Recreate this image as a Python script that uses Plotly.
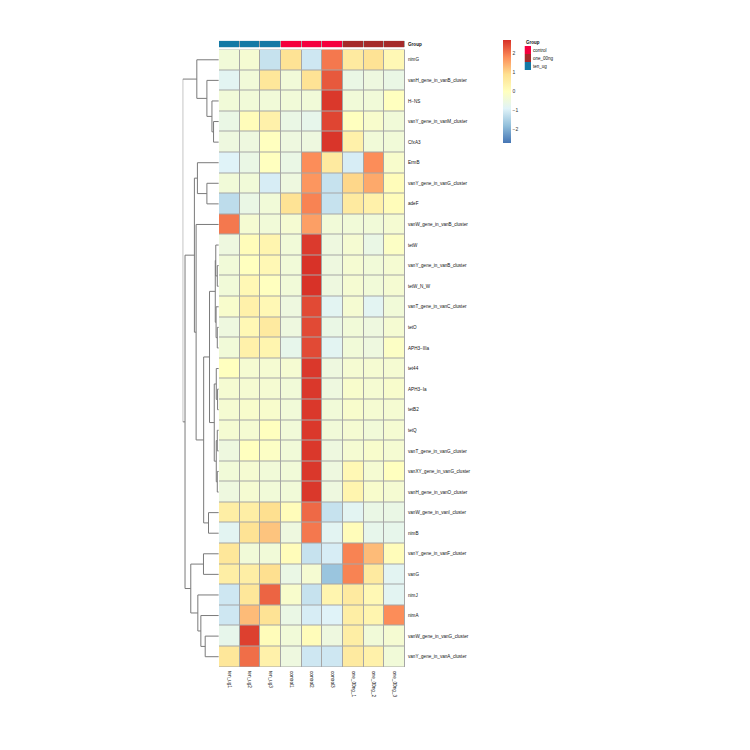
import plotly.graph_objects as go

# ---- data ----
samples = ["ten_ug1", "ten_ug2", "ten_ug3", "control1", "control2", "control3",
           "one_00ng_1", "one_00ng_2", "one_00ng_3"]
sample_group = ["ten_ug", "ten_ug", "ten_ug", "control", "control", "control",
                "one_00ng", "one_00ng", "one_00ng"]
groups = ["control", "one_00ng", "ten_ug"]
group_colors = ["#F5003D", "#A52A2A", "#1479A5"]

genes = [
    "nimG", "vanH_gene_in_vanB_cluster", "H−NS", "vanY_gene_in_vanM_cluster", "CfxA3",
    "ErmB", "vanY_gene_in_vanG_cluster", "adeF", "vanW_gene_in_vanB_cluster", "tetW",
    "vanY_gene_in_vanB_cluster", "tetW_N_W", "vanT_gene_in_vanC_cluster", "tetO", "APH3−IIIa",
    "tet44", "APH3−Ia", "tetB2", "tetQ", "vanT_gene_in_vanG_cluster",
    "vanXY_gene_in_vanG_cluster", "vanH_gene_in_vanO_cluster", "vanW_gene_in_vanI_cluster",
    "nimB", "vanY_gene_in_vanF_cluster", "vanG", "nimJ", "nimA",
    "vanW_gene_in_vanG_cluster", "vanY_gene_in_vanA_cluster",
]

# row z-scores
zscores = [
    [-0.4, -0.3, -1.2, 0.8, -1.1, 2.0, 0.6, 0.8, 0.2],
    [-0.8, -0.4, 0.7, -0.4, 0.8, 2.3, -0.6, -0.5, -0.6],
    [-0.4, -0.4, -0.4, -0.4, -0.4, 2.62, -0.4, -0.4, 0.0],
    [-0.6, 0.1, 0.4, -0.6, -0.7, 2.5, 0.0, -0.2, -0.4],
    [-0.5, -0.5, 0.0, -0.5, -0.5, 2.65, 0.4, -0.4, -0.4],
    [-0.9, -0.6, 0.0, -0.6, 1.8, 0.6, -1.0, 1.8, -0.2],
    [-0.4, -0.4, -1.0, -0.5, 1.7, -1.2, 1.0, 1.5, 0.1],
    [-1.3, -0.6, -0.4, 0.8, 1.9, -1.2, 0.6, 0.4, 0.1],
    [2.0, -0.3, -0.4, -0.3, 1.6, -0.4, -0.4, -0.4, -0.3],
    [-0.5, 0.1, 0.3, -0.4, 2.6, -0.5, -0.3, -0.6, -0.1],
    [-0.4, 0.0, 0.2, -0.4, 2.68, -0.5, -0.3, -0.4, -0.3],
    [-0.4, 0.2, 0.0, -0.4, 2.68, -0.5, -0.3, -0.4, -0.3],
    [-0.2, 0.4, 0.2, -0.5, 2.45, -0.8, -0.3, -0.8, -0.4],
    [-0.5, 0.2, 0.6, -0.5, 2.45, -0.6, -0.4, -0.5, -0.3],
    [-0.4, 0.4, 0.3, -0.7, 2.45, -0.8, -0.4, -0.5, -0.1],
    [0.0, -0.3, -0.3, -0.3, 2.62, -0.5, -0.3, -0.3, -0.3],
    [-0.3, -0.3, -0.3, -0.4, 2.62, -0.5, -0.2, -0.3, -0.2],
    [-0.3, -0.2, -0.2, -0.4, 2.62, -0.4, -0.2, -0.3, -0.3],
    [-0.3, -0.3, 0.0, -0.4, 2.62, -0.4, -0.3, -0.4, -0.3],
    [-0.5, 0.0, -0.1, -0.4, 2.62, -0.5, -0.3, -0.2, -0.3],
    [-0.4, -0.3, -0.4, -0.4, 2.62, -0.5, 0.2, -0.3, 0.0],
    [-0.5, -0.3, -0.4, -0.4, 2.62, -0.5, 0.3, -0.2, -0.3],
    [0.5, 0.5, 0.9, 0.1, 2.15, -1.2, -0.8, -0.6, -0.6],
    [-0.8, 0.8, 1.2, -0.5, 2.0, -0.8, 0.1, -0.7, -0.7],
    [0.7, -0.4, -0.4, 0.1, -1.2, -1.0, 1.9, 1.3, 0.1],
    [0.5, 0.5, 0.9, -0.6, -0.3, -1.7, 1.9, 0.6, -0.8],
    [-1.1, 0.7, 2.2, -0.2, -1.2, 0.3, 0.6, 0.2, -0.8],
    [-1.1, 1.3, 0.8, -0.6, -1.0, -0.9, 0.5, 0.3, 1.8],
    [-0.7, 2.55, 0.1, -0.4, 0.1, -0.5, 0.5, -0.4, -0.3],
    [0.7, 2.1, 0.4, -0.5, -1.1, -1.1, 0.6, 0.4, -0.4],
]

# row clustering: (child_a, child_b, height); leaves 0..29, new nodes from 30
row_merges = [
    (3, 4, 5.2), (2, 30, 6.8), (1, 31, 11.8), (0, 32, 21.8),        # 30-33
    (6, 7, 11.8), (5, 34, 21.2),                                     # 34-35
    (10, 11, 1.5), (9, 36, 3.0), (13, 14, 1.5), (12, 38, 2.7),       # 36-39
    (37, 39, 3.5),                                                   # 40
    (16, 17, 1.2), (15, 41, 2.5), (18, 19, 1.5), (20, 21, 1.5),      # 41-44
    (43, 44, 2.5), (42, 45, 4.5),                                    # 45-46
    (40, 46, 9.2), (22, 23, 10.2), (47, 48, 15.0), (8, 49, 22.5),    # 47-50
    (35, 50, 24.2),                                                  # 51
    (24, 25, 15.2), (28, 29, 13.5), (27, 53, 17.8), (26, 54, 20.8),  # 52-55
    (52, 55, 27.8), (51, 56, 33.5), (33, 57, 35.8),                  # 56-58
]

zlim = 2.7
heat_colors = ["#4575B4", "#91BFDB", "#E0F3F8", "#FFFFBF", "#FEE090", "#FC8D59", "#D73027"]
colorscale = [[i / (len(heat_colors) - 1), c] for i, c in enumerate(heat_colors)]

FONT = "Liberation Sans, Arial, sans-serif"
W = H = 750
OFF = 8  # page body margin


def px_x(p):
    return (p - OFF) / W


def px_y(p):
    return 1 - (p - OFF) / H


# dendrogram line coordinates from the merge list
n_leaves = len(genes)
pos = {i: float(i) for i in range(n_leaves)}
hgt = {i: 0.0 for i in range(n_leaves)}
dx, dy = [], []
for k, (a, b, h) in enumerate(row_merges):
    node = n_leaves + k
    dx += [hgt[a], h, h, hgt[b], None]
    dy += [pos[a], pos[a], pos[b], pos[b], None]
    pos[node] = (pos[a] + pos[b]) / 2
    hgt[node] = h
root_h = row_merges[-1][2]

fig = go.Figure()

# main heatmap
fig.add_trace(go.Heatmap(
    z=zscores, x=samples, y=list(range(n_leaves)),
    colorscale=colorscale, zmin=-zlim, zmax=zlim,
    xgap=1, ygap=1, hoverongaps=False,
    colorbar=dict(
        x=px_x(503.5), xanchor="left", xpad=0,
        y=px_y(40), yanchor="top", ypad=0,
        len=103 / H, lenmode="fraction",
        thickness=8, thicknessmode="pixels",
        outlinewidth=0, ticks="",
        tickvals=[-2, -1, 0, 1, 2],
        tickfont=dict(size=5, family=FONT, color="#333333"),
    ),
))

# group annotation bar
gidx = [groups.index(g) for g in sample_group]
n_g = len(groups)
ann_scale = []
for i, c in enumerate(group_colors):
    ann_scale += [[i / n_g, c], [(i + 1) / n_g, c]]
fig.add_trace(go.Heatmap(
    z=[gidx], x=samples, y=[0], xaxis="x2", yaxis="y2",
    colorscale=ann_scale, zmin=-0.5, zmax=n_g - 0.5, showscale=False,
    xgap=1, ygap=0,
))

# group legend keys
fig.add_trace(go.Heatmap(
    z=[[i] for i in range(n_g)], x=[0], y=list(range(n_g)), xaxis="x4", yaxis="y4",
    colorscale=ann_scale, zmin=-0.5, zmax=n_g - 0.5, showscale=False,
))

# row dendrogram
fig.add_trace(go.Scatter(
    x=dx, y=dy, xaxis="x3", yaxis="y", mode="lines",
    line=dict(color="#7A7A7A", width=1), hoverinfo="skip", cliponaxis=False,
))

# cell borders (grey showing through the gaps)
n_cols = len(samples)
fig.add_shape(type="rect", xref="x", yref="y", layer="below",
              x0=-0.53, x1=n_cols - 0.47, y0=-0.53, y1=n_leaves - 0.47,
              fillcolor="#A6A6A6", line_width=0)
fig.add_shape(type="rect", xref="x2", yref="y2", layer="below",
              x0=-0.53, x1=n_cols - 0.47, y0=-0.5, y1=0.5,
              fillcolor="#A6A6A6", line_width=0)

fig.add_annotation(text="<b>Group</b>", xref="paper", yref="paper",
                   x=px_x(524), y=px_y(42.5), xanchor="left", yanchor="middle",
                   showarrow=False, font=dict(size=4.5, family=FONT, color="#111111"))

hidden = dict(showgrid=False, zeroline=False, showticklabels=False, ticks="", showline=False)
fig.update_layout(
    width=W, height=H,
    margin=dict(l=0, r=0, t=0, b=0),
    paper_bgcolor="white", plot_bgcolor="white",
    showlegend=False,
    xaxis=dict(domain=[px_x(219), px_x(405)], range=[-0.5, n_cols - 0.5],
               showgrid=False, zeroline=False, ticks="", tickangle=90,
               ticklabelstandoff=3, anchor="y",
               tickfont=dict(size=4.7, family=FONT, color="#111111")),
    yaxis=dict(domain=[px_y(667), px_y(49.5)], range=[n_leaves - 0.5, -0.5],
               tickvals=list(range(n_leaves)), ticktext=genes, side="right",
               showgrid=False, zeroline=False, ticks="", anchor="x",
               ticklabelstandoff=2,
               tickfont=dict(size=4.6, family=FONT, color="#111111")),
    xaxis2=dict(domain=[px_x(219), px_x(405)], matches="x", anchor="y2", **hidden),
    yaxis2=dict(domain=[px_y(47.3), px_y(40.7)], range=[-0.5, 0.5], anchor="x2",
                tickvals=[0], ticktext=["<b>Group</b>"], side="right",
                showgrid=False, zeroline=False, ticks="", ticklabelstandoff=2,
                tickfont=dict(size=4.6, family=FONT, color="#111111")),
    xaxis3=dict(domain=[px_x(182.7), px_x(218.8)], range=[root_h, 0], anchor="y", **hidden),
    xaxis4=dict(domain=[px_x(524.5), px_x(531)], range=[-0.5, 0.5], anchor="y4", **hidden),
    yaxis4=dict(domain=[px_y(70), px_y(46)], range=[n_g - 0.5, -0.5], anchor="x4",
                tickvals=list(range(n_g)), ticktext=groups, side="right",
                showgrid=False, zeroline=False, ticks="", ticklabelstandoff=1,
                tickfont=dict(size=4.5, family=FONT, color="#111111")),
)

fig.write_html("out.html")
